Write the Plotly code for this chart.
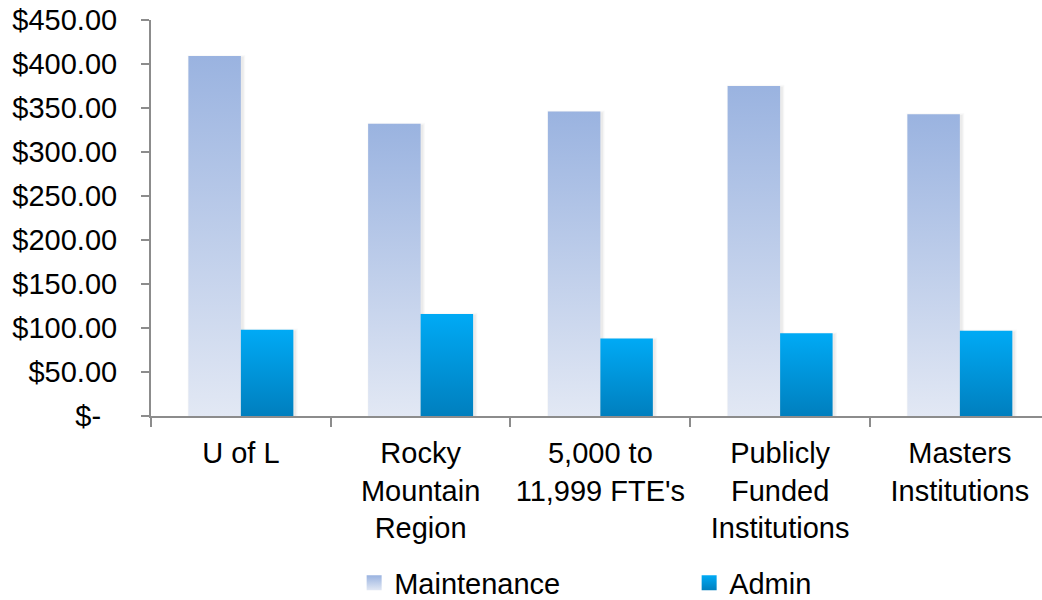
import plotly.graph_objects as go

# Cost per category, two series
categories = [
    "U of L",
    "Rocky<br>Mountain<br>Region",
    "5,000 to<br>11,999 FTE's",
    "Publicly<br>Funded<br>Institutions",
    "Masters<br>Institutions",
]
maintenance = [409, 332, 346, 375, 343]
admin = [98, 116, 88, 94, 97]

y_tick_values = [0, 50, 100, 150, 200, 250, 300, 350, 400, 450]
y_tick_labels = ["$-\u00a0\u00a0", "$50.00", "$100.00", "$150.00", "$200.00",
                 "$250.00", "$300.00", "$350.00", "$400.00", "$450.00"]

series = [
    ("Maintenance", maintenance, -1, "#e2e8f4", "#9ab3e0"),
    ("Admin", admin, 0, "#007fbe", "#00aaf5"),
]

BAR_W = 0.292  # width of one bar in category units
FONT = "Arial, Liberation Sans, sans-serif"

fig = go.Figure()

# soft drop shadow behind each bar
for name, values, side, c_bottom, c_top in series:
    for i, v in enumerate(values):
        x0 = i + side * BAR_W
        x1 = x0 + BAR_W
        for k, a in [(3, 0.018), (2, 0.025), (1, 0.035)]:
            dx = 0.005 * k
            dy = 1.1 * k
            sx = 0.01
            fig.add_trace(go.Scatter(
                x=[x0 - dx + sx, x1 + dx + sx, x1 + dx + sx, x0 - dx + sx, x0 - dx + sx],
                y=[-dy - 2, -dy - 2, v + dy - 2, v + dy - 2, -dy - 2],
                fill="toself", mode="lines", line=dict(width=0),
                fillcolor=f"rgba(0,0,0,{a})", hoverinfo="skip", showlegend=False,
            ))

# the bars, each with its own vertical gradient
for name, values, side, c_bottom, c_top in series:
    for i, v in enumerate(values):
        x0 = i + side * BAR_W
        x1 = x0 + BAR_W
        fig.add_trace(go.Scatter(
            x=[x0, x1, x1, x0, x0],
            y=[0, 0, v, v, 0],
            fill="toself", mode="lines", line=dict(width=0),
            fillgradient=dict(type="vertical", colorscale=[[0, c_bottom], [1, c_top]],
                              start=0, stop=v),
            name=name, legendgroup=name, showlegend=False,
            hovertemplate=f"{name}: $%{{y:.2f}}<extra></extra>",
        ))

# legend keys: small gradient squares
for name, values, side, c_bottom, c_top in series:
    fig.add_trace(go.Scatter(
        x=[None], y=[None], mode="markers", name=name, legendgroup=name,
        marker=dict(symbol="square", size=15, color=c_top, line=dict(width=0),
                    gradient=dict(type="vertical", color=c_bottom)),
    ))

fig.update_layout(
    width=1042, height=600,
    margin=dict(l=151, r=0, t=20, b=184),
    paper_bgcolor="white", plot_bgcolor="white",
    font=dict(family=FONT, size=29, color="#000000"),
    showlegend=True,
    legend=dict(orientation="h", x=0.228, xanchor="left",
                yref="container", y=0.0283, yanchor="middle",
                font=dict(size=29), entrywidth=290, itemwidth=30,
                bgcolor="rgba(0,0,0,0)"),
)

fig.update_xaxes(
    range=[-0.5, 4.457],
    tickmode="array", tickvals=list(range(len(categories))), ticktext=categories,
    ticks="", showgrid=False, zeroline=False,
    showline=True, linecolor="#8c8c8c", linewidth=2,
    minor=dict(tickmode="linear", tick0=-0.5, dtick=1, ticks="outside",
               ticklen=9, tickwidth=2, tickcolor="#8c8c8c", showgrid=False),
    ticklabelstandoff=10,
)
fig.update_yaxes(
    range=[0, 450],
    tickmode="array", tickvals=y_tick_values, ticktext=y_tick_labels,
    ticks="outside", ticklen=8, tickwidth=2, tickcolor="#8c8c8c",
    showgrid=False, zeroline=False,
    showline=True, linecolor="#8c8c8c", linewidth=2,
    ticklabelstandoff=18,
)

fig.write_html("out.html")
